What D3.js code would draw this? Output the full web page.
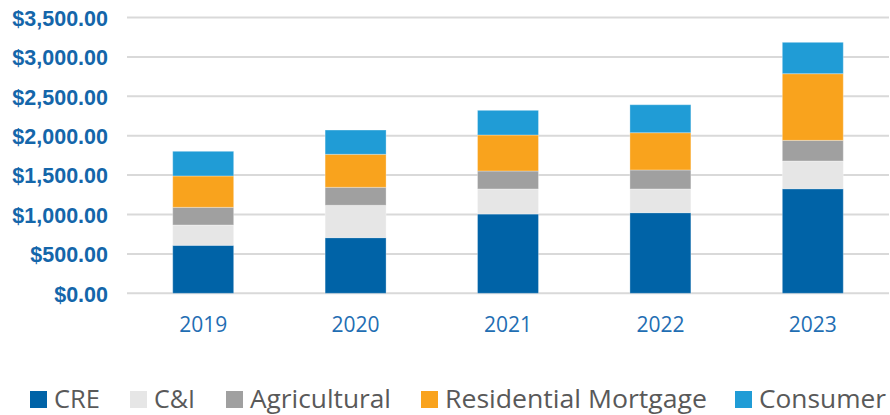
<!DOCTYPE html>
<html>
<head>
<meta charset="utf-8">
<script src="https://cdn.jsdelivr.net/npm/d3@7"></script>
<style>
  html, body { margin: 0; padding: 0; background: #fff; }
  svg { display: block; }
</style>
</head>
<body>
<svg id="chart" width="890" height="415"></svg>
<script>
const years = ["2019", "2020", "2021", "2022", "2023"];
const seriesNames = ["CRE", "C&I", "Agricultural", "Residential Mortgage", "Consumer"];
const CRE = [609, 706, 1006, 1023, 1327];
const CandI = [258, 411, 318, 301, 352];
const Agricultural = [224, 228, 228, 241, 262];
const ResidentialMortgage = [398, 419, 457, 473, 846];
const Consumer = [313, 308, 313, 355, 398];
const yTicks = [0, 500, 1000, 1500, 2000, 2500, 3000, 3500];
const colors = ["#0063A7", "#E6E6E6", "#A0A0A0", "#F9A31D", "#209CD6"];

const seriesValues = [CRE, CandI, Agricultural, ResidentialMortgage, Consumer];
const table = years.map((yr, i) => {
  const row = { year: yr };
  seriesNames.forEach((s, j) => row[s] = seriesValues[j][i]);
  return row;
});

const svg = d3.select("#chart");
const plotLeft = 127, plotRight = 889, plotTop = 17.5, plotBottom = 293.3;

const x = d3.scaleBand().domain(years).range([plotLeft, plotRight]).paddingInner(0.6).paddingOuter(0.3);
const y = d3.scaleLinear().domain([0, 3500]).range([plotBottom, plotTop]);

// gridlines
svg.append("g").selectAll("line").data(yTicks).join("line")
  .attr("x1", plotLeft).attr("x2", plotRight)
  .attr("y1", d => y(d)).attr("y2", d => y(d))
  .attr("stroke", "#D9D9D9").attr("stroke-width", 2);

// y axis labels
const fmt = d => "$" + d3.format(",.2f")(d);
const yAxis = d3.axisLeft(y).tickValues(yTicks).tickFormat(fmt).tickSize(0).tickPadding(0);
const ya = svg.append("g").attr("transform", "translate(108,0)").call(yAxis);
ya.select(".domain").remove();
ya.selectAll("text")
  .attr("font-family", "'Liberation Sans', Arial, sans-serif")
  .attr("font-weight", "bold").attr("font-size", 21.5)
  .attr("fill", "#1466AA").attr("dy", "0.36em");

// bars
const stack = d3.stack().keys(seriesNames)(table);
svg.append("g").selectAll("g").data(stack).join("g")
  .attr("fill", (d, i) => colors[i])
  .selectAll("rect").data(d => d).join("rect")
  .attr("x", d => x(d.data.year))
  .attr("width", x.bandwidth())
  .attr("y", d => y(d[1]))
  .attr("height", d => y(d[0]) - y(d[1]))
  .attr("stroke", "rgba(255,255,255,0.3)").attr("stroke-width", 1);

// x axis labels
const xAxis = d3.axisBottom(x).tickSize(0).tickPadding(0);
const xa = svg.append("g").attr("transform", "translate(0,332)").call(xAxis);
xa.select(".domain").remove();
xa.selectAll("text")
  .attr("font-family", "'Open Sans', sans-serif")
  .attr("font-size", 21).attr("fill", "#1F6EB3").attr("dy", 0).attr("y", 0);

const legendX = [30, 130, 226, 421, 735];
const legendW = [46, 41, 141, 262, 127];
const lg = svg.append("g");
seriesNames.forEach((s, i) => {
  lg.append("rect").attr("x", legendX[i]).attr("y", 391).attr("width", 17).attr("height", 17).attr("fill", colors[i]);
  lg.append("text").attr("x", legendX[i] + 24).attr("y", 408)
    .attr("font-family", "'Open Sans', sans-serif").attr("font-size", 26)
    .attr("textLength", legendW[i]).attr("lengthAdjust", "spacingAndGlyphs")
    .attr("fill", "#595959").text(s);
});
</script>
</body>
</html>
